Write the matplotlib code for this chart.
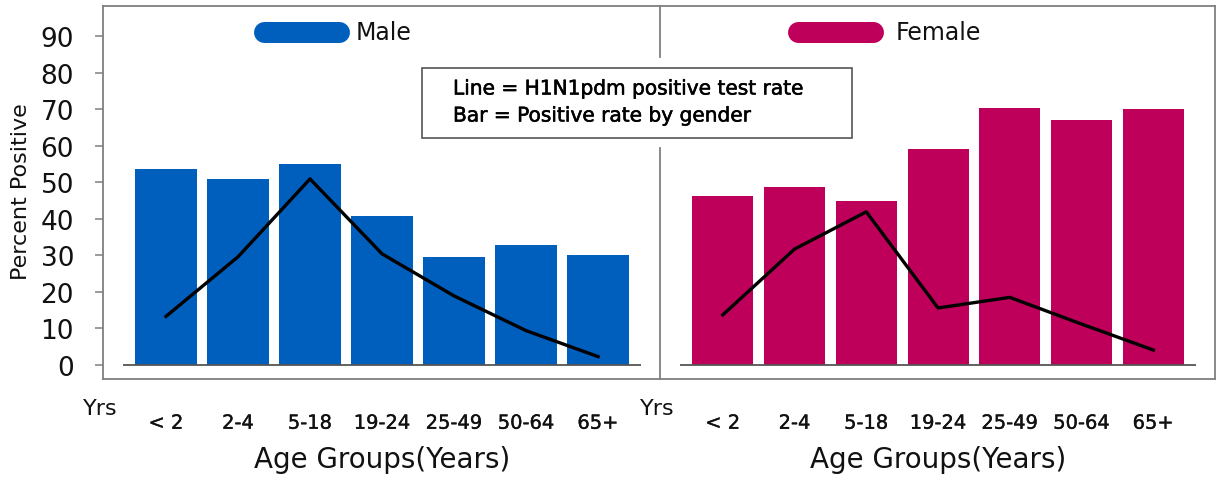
import matplotlib
matplotlib.use('Agg')
import matplotlib.pyplot as plt
import matplotlib.patheffects as pe
from matplotlib.lines import Line2D
from matplotlib.patches import Rectangle

# ---- data ----
age_groups = ['< 2', '2-4', '5-18', '19-24', '25-49', '50-64', '65+']
male_rate = [53.6, 51.0, 55.1, 40.8, 29.6, 32.9, 30.0]
male_h1n1 = [13.3, 29.6, 50.9, 30.4, 18.9, 9.4, 2.3]
female_rate = [46.3, 48.8, 44.9, 59.1, 70.4, 67.1, 70.0]
female_h1n1 = [13.7, 31.7, 41.9, 15.6, 18.5, 11.2, 4.1]
y_ticks = [0, 10, 20, 30, 40, 50, 60, 70, 80, 90]
panel_names = ['Male', 'Female']
box_lines = ['Line = H1N1pdm positive test rate', 'Bar = Positive rate by gender']

plt.rcParams['font.family'] = ['DejaVu Sans']

BLUE = '#005EBD'
MAGENTA = '#BE005B'
FRAME = '#7f7f7f'
TEXT = '#111111'
thin = [pe.withStroke(linewidth=0.25, foreground='#111111')]

W, H = 1217, 481
fig = plt.figure(figsize=(W / 100, H / 100), dpi=100)


def fx(px):
    return px / W


def fy(py):
    return 1 - py / H


axL = fig.add_axes([fx(103), fy(380), fx(660) - fx(103), fy(7) - fy(380)])
axR = fig.add_axes([fx(660), fy(380), fx(1215) - fx(660), fy(7) - fy(380)])

x = list(range(len(age_groups)))
for ax, rates, h1n1, color in [(axL, male_rate, male_h1n1, BLUE),
                               (axR, female_rate, female_h1n1, MAGENTA)]:
    ax.bar(x, rates, width=0.85, color=color, zorder=2)
    ax.plot(x, h1n1, color='black', lw=2.4, zorder=3, solid_joinstyle='round')
    ax.hlines(0, -0.6, 6.6, color='#555555', lw=1.3, zorder=4)
    ax.set_xlim(-0.875, 6.86)
    ax.set_ylim(-3.83, 98.2)
    ax.set_xticks(x)
    ax.set_xticklabels(age_groups, fontsize=14, color=TEXT)
    for lab in ax.get_xticklabels():
        lab.set_path_effects(thin)
    ax.tick_params(axis='x', length=0, pad=25)
    for s in ax.spines.values():
        s.set_color(FRAME)
        s.set_linewidth(1.3)
    ax.text(-0.91, -0.078, 'Yrs', transform=ax.get_xaxis_transform(),
            ha='center', va='center', fontsize=16, color=TEXT)
    ax.text(3.0, -0.215, 'Age Groups(Years)', transform=ax.get_xaxis_transform(),
            ha='center', va='center', fontsize=20, color=TEXT)

axL.spines['right'].set_visible(False)
axR.spines['left'].set_visible(False)
axL.set_yticks(y_ticks)
axL.set_yticklabels([str(v) for v in y_ticks], fontsize=19, color=TEXT)
axL.tick_params(axis='y', direction='out', length=5.8, width=1.1, color=FRAME, pad=15)
axR.set_yticks([])

# divider between panels (interrupted by the note box)
for y0, y1 in [(7, 58), (149, 380)]:
    fig.add_artist(Line2D([fx(660), fx(660)], [fy(y0), fy(y1)],
                          color=FRAME, lw=1.3, transform=fig.transFigure))

fig.text(fx(21), fy(192), 'Percent Positive', rotation=90, ha='center', va='center',
         fontsize=16, color=TEXT)

# legend pills
for (x0, x1, tx), name, color in zip([(264, 339, 356), (798, 873, 896)], panel_names, [BLUE, MAGENTA]):
    fig.add_artist(Line2D([fx(x0), fx(x1)], [fy(33), fy(33)], color=color, lw=21 * 0.72,
                          solid_capstyle='round', transform=fig.transFigure))
    fig.text(fx(tx), fy(33), name, ha='left', va='center', fontsize=17, color=TEXT)

# note box
fig.add_artist(Rectangle((fx(422), fy(139)), fx(852) - fx(422), fy(69) - fy(139),
                         transform=fig.transFigure, facecolor='white', edgecolor='#555555', lw=1.2))
for line, yy in zip(box_lines, [90, 117]):
    fig.text(fx(453), fy(yy), line, ha='left', va='center', fontsize=14.5, color='black',
             path_effects=[pe.withStroke(linewidth=0.4, foreground='black')])

fig.savefig('out.png', dpi=100)
